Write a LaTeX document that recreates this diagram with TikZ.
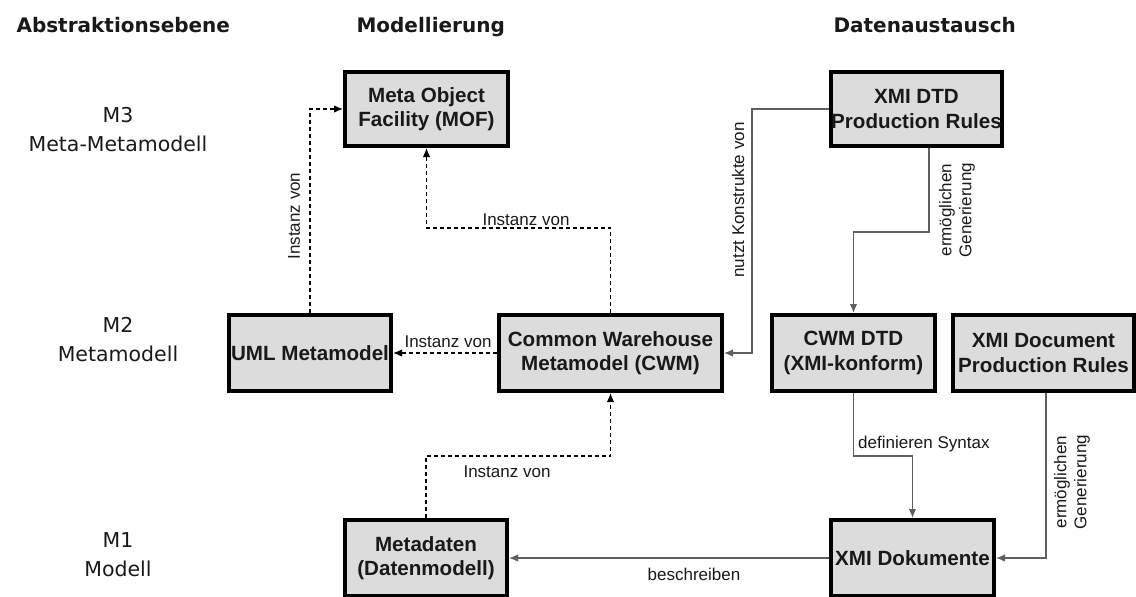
\documentclass[tikz,border=0pt]{standalone}
\usepackage{fontspec}
\setmainfont{Liberation Sans}
\newfontfamily\widesans{DejaVu Sans}
\usetikzlibrary{arrows.meta}

\definecolor{boxgray}{RGB}{220,220,220}
\definecolor{linegray}{RGB}{95,95,95}
\definecolor{inkblack}{RGB}{25,25,25}

\begin{document}
\begin{tikzpicture}[x=1pt,y=-1pt,
  box/.style={draw=black, line width=4pt, fill=boxgray, text=inkblack,
    minimum width=#1, minimum height=76pt, inner sep=0pt, align=center,
    font=\fontsize{20.6}{24.5}\selectfont\bfseries},
  header/.style={anchor=base west, text=inkblack,
    font=\widesans\fontsize{20}{24}\selectfont\bfseries},
  level/.style={anchor=base, align=center, text=inkblack,
    font=\widesans\fontsize{20.5}{29}\selectfont},
  lbl/.style={text=inkblack, inner sep=1pt, align=center,
    font=\fontsize{17}{20}\selectfont},
  tip/.style={-{Latex[length=9pt,width=7.5pt]}},
  instof/.style={tip, draw=black, line width=1.3pt, dash pattern=on 4pt off 3pt},
  rel/.style={tip, draw=linegray, line width=1.3pt}]

\useasboundingbox (0,0) rectangle (1136,597);

% column headers
\node[header] (hA) at (13,32) {Abstraktionsebene};
\node[header] (hM) at (353,32) {Modellierung};
\node[header] (hD) at (830,32) {Datenaustausch};

% abstraction levels (anchored at the baseline of the last line)
\node[level] (m3) at (118,151) {M3\\Meta-Metamodell};
\node[level] (m2) at (118,361) {M2\\Metamodell};
\node[level] (m1) at (118,576) {M1\\Modell};

% modelling boxes
\node[box=163pt, minimum height=74pt] (mof) at (426.5,109) {Meta Object\\Facility (MOF)};
\node[box=162pt] (uml) at (310,353) {UML Metamodel};
\node[box=223pt] (cwm) at (610.5,353) {Common Warehouse\\Metamodel (CWM)};
\node[box=162pt] (meta) at (426,558) {Metadaten\\(Datenmodell)};

% data exchange boxes
\node[box=163pt, minimum height=74pt] (xdtd) at (916.5,109) {XMI DTD\\Production Rules};
\node[box=163pt] (cwmdtd) at (853.5,353) {CWM DTD\\(XMI-konform)};
\node[box=181pt] (xdpr) at (1043.5,353) {XMI Document\\Production Rules};
\node[box=163pt] (xdok) at (912.5,558) {XMI Dokumente};

% instance-of relations (dashed)
\draw[instof] (uml.north) |- (mof.west);
\draw[instof] (cwm.north) -- ++(0,-85) -| (mof.south);
\draw[instof] (cwm.west) -- (uml.east);
\draw[instof] (meta.north) -- ++(0,-62) -| (cwm.south);

% data exchange relations (solid)
\coordinate (nk) at (752,0);
\draw[rel] (xdtd.west) -| (nk |- cwm.east) -- (cwm.east);
\draw[rel] ([xshift=12.5pt]xdtd.south) -- ++(0,84) -| (cwmdtd.north);
\draw[rel] (cwmdtd.south) -- ++(0,63) -| (xdok.north);
\draw[rel] ([xshift=2.5pt]xdpr.south) |- (xdok.east);
\draw[rel] (xdok.west) -- (meta.east);

% connector labels
\node[lbl, rotate=90] (t1) at (294,216) {Instanz von};
\node[lbl] (t2) at (526,220) {Instanz von};
\node[lbl] (t3) at (448,342) {Instanz von};
\node[lbl] (t4) at (507,472) {Instanz von};
\node[lbl, rotate=90] (t5) at (738,200) {nutzt Konstrukte von};
\node[lbl, rotate=90] (t6) at (957,210) {ermöglichen\\Generierung};
\node[lbl, anchor=west] (t7) at (857,444) {definieren Syntax};
\node[lbl, rotate=90] (t8) at (1072,482) {ermöglichen\\Generierung};
\node[lbl] (t9) at (694,574) {beschreiben};

\end{tikzpicture}
\end{document}
